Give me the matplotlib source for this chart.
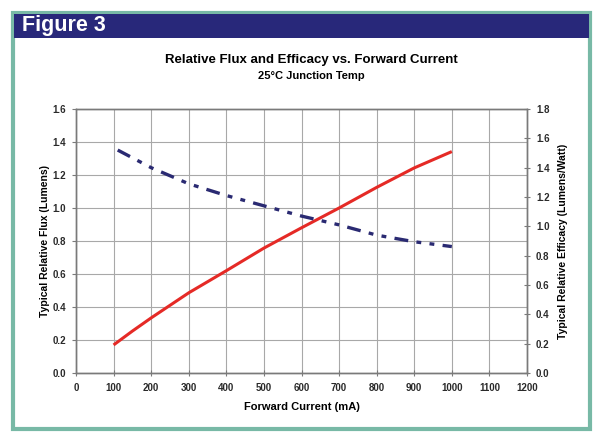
import matplotlib
matplotlib.use("Agg")
import matplotlib.pyplot as plt
from matplotlib.patches import Rectangle

plt.rcParams['font.family'] = ['Liberation Sans', 'DejaVu Sans']
plt.rcParams['lines.scale_dashes'] = False

# Data
flux_current = [100, 150, 200, 300, 400, 500, 600, 700, 800, 900, 1000]
flux_values = [0.17, 0.254, 0.334, 0.486, 0.62, 0.757, 0.88, 1.0, 1.125, 1.243, 1.342]
eff_current = [111, 200, 300, 400, 500, 600, 700, 800, 900, 1000]
eff_values = [1.52, 1.40, 1.29, 1.21, 1.14, 1.07, 1.01, 0.94, 0.895, 0.862]

x_ticks = list(range(0, 1201, 100))
left_ticks = [0.0, 0.2, 0.4, 0.6, 0.8, 1.0, 1.2, 1.4, 1.6]
right_ticks = [0.0, 0.2, 0.4, 0.6, 0.8, 1.0, 1.2, 1.4, 1.6, 1.8]

W, H = 600, 446
fig = plt.figure(figsize=(W / 100, H / 100), dpi=100)
fig.patch.set_facecolor('white')

def fx(px):
    return px / W

def fy(py):
    return 1 - py / H

# Outer teal frame
fig.patches.append(Rectangle((fx(13), fy(429)), fx(590) - fx(13), fy(13) - fy(429),
                             transform=fig.transFigure, facecolor='white',
                             edgecolor='#78b9a6', linewidth=3, zorder=-3))
# Navy header bar
fig.patches.append(Rectangle((fx(14), fy(38)), fx(589) - fx(14), fy(14) - fy(38),
                             transform=fig.transFigure, facecolor='#28287a',
                             edgecolor='none', zorder=-2))
fig.text(fx(22), fy(26), 'Figure 3', color='white', fontsize=15.5, fontweight='bold',
         va='center', ha='left')

fig.text(fx(311), fy(60), 'Relative Flux and Efficacy vs. Forward Current',
         fontsize=9.5, fontweight='bold', ha='center', va='center')
fig.text(fx(311), fy(76), '25°C Junction Temp',
         fontsize=8, fontweight='bold', ha='center', va='center')

ax = fig.add_axes([fx(76), fy(373), fx(527) - fx(76), fy(109) - fy(373)])
ax.set_facecolor('white')
ax.set_xlim(0, 1200)
ax.set_ylim(0, 1.6)
ax.set_xticks(x_ticks)
ax.set_yticks(left_ticks)
ax.set_xticklabels([str(t) for t in x_ticks])
ax.set_yticklabels([f'{t:.1f}' for t in left_ticks])
ax.grid(True, color='#a8a8a8', linewidth=0.8)
ax.set_axisbelow(True)
for s in ax.spines.values():
    s.set_color('#7a7a7a')
    s.set_linewidth(1.0)
ax.tick_params(axis='x', direction='inout', length=5, color='#7a7a7a',
               labelsize=7, pad=5)
ax.tick_params(axis='y', direction='out', length=3, color='#7a7a7a',
               labelsize=7, pad=4)
for lab in ax.get_xticklabels() + ax.get_yticklabels():
    lab.set_fontweight('bold')
    lab.set_color('#2a2a2a')

ax.plot(flux_current, flux_values, color='#e52a26', linewidth=2.2, zorder=3,
        solid_capstyle='butt', solid_joinstyle='round')
ax.set_xlabel('Forward Current (mA)', fontsize=8, fontweight='bold', labelpad=6)
ax.set_ylabel('Typical Relative Flux (Lumens)', fontsize=7.5, fontweight='bold',
              labelpad=2)

ax2 = ax.twinx()
ax2.set_ylim(0, 1.8)
ax2.set_yticks(right_ticks)
ax2.set_yticklabels([f'{t:.1f}' for t in right_ticks])
ax2.tick_params(axis='y', direction='inout', length=5, color='#7a7a7a',
                labelsize=7, pad=4)
for lab in ax2.get_yticklabels():
    lab.set_fontweight('bold')
    lab.set_color('#2a2a2a')
for s in ax2.spines.values():
    s.set_color('#7a7a7a')
    s.set_linewidth(1.0)
ax2.plot(eff_current, eff_values, color='#2a2a72', linewidth=2.4, zorder=3,
         dashes=(10, 6, 3.5, 6, 3.5, 6), dash_capstyle='butt')
ax2.set_ylabel('Typical Relative Efficacy (Lumens/Watt)', fontsize=7.5,
               fontweight='bold', labelpad=6)

fig.savefig('out.png', dpi=100, facecolor='white')
